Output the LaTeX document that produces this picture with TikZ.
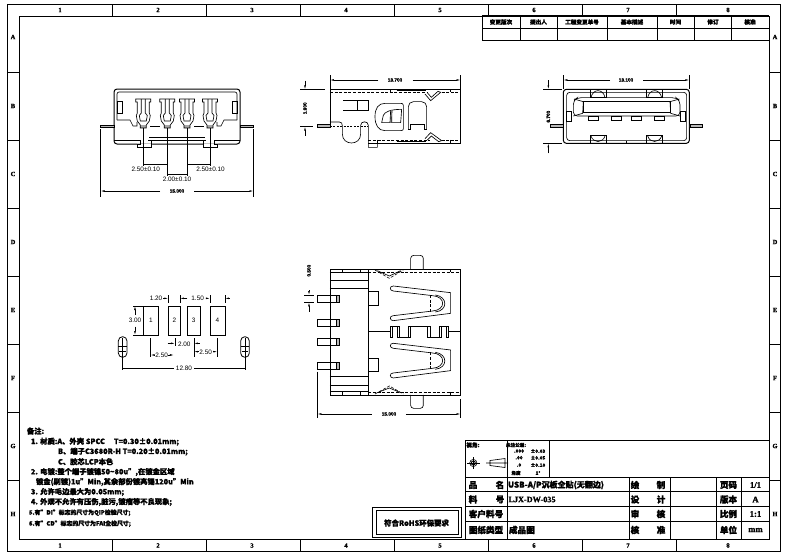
\documentclass[tikz,border=0pt]{standalone}
\usepackage{fontspec}
\usetikzlibrary{arrows.meta}
\setmainfont{Noto Sans CJK SC}[BoldFeatures={FakeBold=1.6}]
\newfontfamily\dimf{Liberation Sans}[BoldFeatures={FakeBold=2}]
\newfontfamily\serf{Liberation Serif}[BoldFeatures={FakeBold=1.5}]
\newcounter{tn}
\newcommand\tx[3][]{\stepcounter{tn}\node[txt,#1] (t\arabic{tn}) at (#2) {#3};}
\newcommand\fs[1]{\fontsize{#1}{#1}\selectfont}
\tikzset{
 txt/.style={inner sep=0pt,outer sep=0pt,black},
 zm/.style 2 args={shift={(#1pt,-#2pt)},x=0.3333pt,y=-0.3333pt},
 ln/.style={line width=0.65pt,black},
 hv/.style={line width=1pt,black},
 dsh/.style={line width=0.6pt,dash pattern=on 3pt off 1.6pt},
 dimn/.style={line width=0.5pt,black},
 arre/.style={dimn,-{Latex[length=4pt,width=1.7pt]}},
 bdim/.style={txt,font=\fs{4.7}\bfseries\dimf},
 sdim/.style={txt,font=\fs{6.4}\dimf},
 zone/.style={txt,font=\fs{6.5}\bfseries\serf},
 rev/.style={txt,font=\fs{5.6}\bfseries},
 cell/.style={txt,font=\fs{8.6}\bfseries},
 note/.style={txt,anchor=west,font=\fs{7.3}\bfseries},
 notes/.style={txt,anchor=west,font=\fs{5.9}\bfseries},
 tiny/.style={txt,font=\fs{4.6}\bfseries},
}
\newcommand\contact[1]{\begin{scope}[shift={(#1pt,0pt)}]
 \fill[gray!70] (-3,125) rectangle (3,128);
 \draw[ln] (-7.5,99)--(7.5,99)--(7.5,102)--(6,102)--(6,113)--(7,115.5)--(6,121)--(3,125)--(3,128)--(-3,128)--(-3,125)--(-6,121)--(-7,115.5)--(-6,113)--(-6,102)--(-7.5,102)--cycle;
 \draw[ln] (-2,99)--(-2,113)--(-4,115.5)--(-3,121)--(3,121)--(4,115.5)--(2,113)--(2,99);
\end{scope}}
\newcommand\spring[1]{\begin{scope}[shift={(0pt,-#1pt)}]
 \draw[ln] (310,108)--(482,128)--(482,190)--(310,212) .. controls (298,212) and (298,197) .. (310,197)--(428,183) .. controls (468,180) and (468,140) .. (428,137)--(310,123) .. controls (298,122) and (298,108) .. (310,108);
 \draw[ln] (436,135) .. controls (474,140) and (474,182) .. (436,186);
 \draw[dsh] (420,135)--(420,185);
\end{scope}}
\begin{document}
\begin{tikzpicture}[x=1pt,y=-1pt]
\useasboundingbox (0,0) rectangle (787,558);
\fill[white] (0,0) rectangle (787,558);
% frame
\draw[line width=0.8pt] (7.5,4) rectangle (780.5,551);
\draw[hv] (19,16) rectangle (769,539);
\foreach \x in {112,206,300,394,488,582,676}{\draw[line width=0.8pt] (\x,4)--(\x,16);\draw[line width=0.8pt] (\x,539)--(\x,551);}
\foreach \y in {72,140,208,276,344,412,480}{\draw[line width=0.8pt] (7.5,\y)--(19,\y);\draw[line width=0.8pt] (769,\y)--(780.5,\y);}
\foreach \x/\l in {60/1,158/2,252/3,346/4,440/5,534/6,628/7,728/8}{\tx[zone]{\x,10}{\l}\tx[zone]{\x,545.5}{\l}}
\foreach \y/\l in {37/A,106/B,174/C,242/D,310/E,378/F,446/G,514/H}{\tx[zone]{13,\y}{\l}\tx[zone]{775,\y}{\l}}
% revision table
\draw[hv] (482.3,15)--(769,15) (482.3,28.3)--(769,28.3) (482.3,40.7)--(769,40.7);
\foreach \x in {482.3,520,557.3,607.3,657.3,694,731.7}{\draw[line width=0.6pt] (\x,15)--(\x,40.7);}
\foreach \x/\l in {501/变更版次,538.5/提出人,582/工程变更单号,632/基本描述,675.5/时间,713/修订,750/核准}{\tx[rev]{\x,22}{\l}}
% front view
\draw[hv,rounded corners=3pt] (114,89) rectangle (240,144);
\draw[ln,rounded corners=2pt] (117,120)--(117,92)--(237,92)--(237,120);
\draw[ln] (117,101) rectangle (122,113) (232,101) rectangle (237,113);
\draw[ln] (117,120)--(130,120)--(133,126)--(137,126)--(137,122);
\draw[ln] (237,120)--(224,120)--(221,126)--(217,126)--(217,122);
\draw[ln] (150,126)--(160,126) (194,126)--(204,126);
\fill[white] (137,143.5) rectangle (152,147) (203,143.5) rectangle (218,147);
\draw[ln] (114,140)--(140,140)--(140,144)--(137,144)--(137,147.5)--(151,147.5)--(151,140)--(148,140);
\draw[ln] (240,140)--(214,140)--(214,144)--(217,144)--(217,147.5)--(203,147.5)--(203,140)--(206,140);
\draw[ln] (148,140)--(206,140) (149,137)--(205,137);
\contact{143.3}\contact{167.3}\contact{187}\contact{210}
\draw[ln,fill=gray!55] (100.5,125.3) rectangle (114,127.5);
\draw[ln,fill=gray!55] (240,125.3) rectangle (253.5,127.5);
\draw[dimn] (143.3,128)--(143.3,166) (167.3,128)--(167.3,176) (187,128)--(187,176) (210,128)--(210,166);
\draw[dimn] (143.3,164)--(167.3,164) (187,164)--(210,164) (167.3,174)--(187,174);
\draw[dimn] (100.5,129)--(100.5,197) (253.5,129)--(253.5,197);
\draw[arre] (160,191)--(100.5,191); \draw[arre] (194,191)--(253.5,191);
\tx[sdim]{145.8,169.3}{2.50±0.10}\tx[sdim]{210.5,169.3}{2.50±0.10}\tx[sdim]{177,179}{2.00±0.10}
\tx[bdim]{177,191}{15.000}
% side view
\begin{scope}[zm={290}{60}]
\draw[ln] (120,200)--(120,88)--(512,88)--(512,250)--(235,250);
\draw[dsh] (120,97)--(410,97) (455,97)--(512,97) (235,240)--(420,240) (455,240)--(512,240);
\draw[ln] (302,88)--(302,97) (480,88)--(480,97) (262,240)--(262,250) (480,240)--(480,250);
\draw[line width=0.9pt] (320,92)--(408,92) (320,245)--(408,245);
\draw[ln,fill=gray!55] (82,193) rectangle (120,203);
\draw[ln,dash pattern=on 2pt off 1.4pt] (120,198)--(235,198);
\draw[ln] (120,186)--(148,186) .. controls (155,186) and (157,190) .. (157,198)--(157,222) .. controls (157,258) and (212,258) .. (212,222)--(212,196) .. controls (212,182) and (235,182) .. (235,196)--(235,262)--(262,262)--(262,250);
\draw[ln] (160,120)--(235,120)--(235,150)--(160,150) (202,120)--(202,150);
\draw[ln] (340,136) .. controls (340,131) and (336,130) .. (332,130)--(285,130) .. controls (265,130) and (255,145) .. (255,170) .. controls (255,195) and (265,212) .. (285,212)--(332,212) .. controls (338,212) and (340,210) .. (340,206)--cycle;
\draw[ln] (275,188)--(280,166) .. controls (284,156) and (300,148) .. (335,148)--(332,188)--cycle;
\fill[gray!55] (300,188)--(302,151)--(306,151)--(305,188)--cycle;
\draw[ln] (300,188)--(302,151) (305,188)--(306,151);
\draw[ln,rounded corners=5pt] (355,208)--(355,125)--(410,125)--(410,208);
\draw[ln] (355,208)--(362,208)--(362,192)--(403,192)--(403,208)--(410,208);
\draw[ln] (405,102)--(422,122)--(452,97)--(444,94)--(424,112)--(412,98);
\draw[ln] (405,236)--(422,218)--(455,242)--(446,245)--(424,228)--(412,240);
\draw[dimn] (120,45)--(120,88) (512,45)--(512,88);
\draw[arre] (265,60)--(120,60); \draw[arre] (368,60)--(512,60);
\tx[bdim]{315,60}{13.700}
\draw[dimn] (30,88)--(105,88) (30,200)--(70,200);
\draw[arre] (45,62)--(45,88); \draw[arre] (45,228)--(45,200);
\tx[bdim,rotate=90]{45,145}{1.900}
\end{scope}
% end view
\begin{scope}[zm={540}{60}]
\draw[hv,rounded corners=3pt] (70,88) rectangle (448,250);
\draw[ln,rounded corners=3pt] (80,97) rectangle (440,242);
\foreach \x in {150,320}{
 \draw[ln] (\x,88)--(\x,113)--(\x+48,113)--(\x+48,88);
 \draw[ln] (\x+3,113) .. controls (\x+8,85) and (\x+40,85) .. (\x+45,113);
 \draw[ln] (\x,250)--(\x,226)--(\x+48,226)--(\x+48,250);
 \draw[ln] (\x+3,228) .. controls (\x+10,250) and (\x+38,250) .. (\x+45,228);
}
\draw[ln] (258,242)--(258,250);
\draw[ln,rounded corners=4pt] (100,168)--(100,122)--(112,113)--(408,113)--(420,122)--(420,168)--cycle;
\draw[ln] (130,125) rectangle (390,157);
\draw[ln] (102,117)--(130,125)--(128,160)--(100,168) (418,117)--(390,125)--(392,160)--(420,168);
\draw[hv] (80,155) rectangle (95,185) (423,155) rectangle (438,185);
\foreach \x in {145,215,273,343}{\draw[ln] (\x,168) rectangle (\x+30,182);}
\draw[ln,fill=gray!55] (32,193) rectangle (70,202) (450,193) rectangle (488,202);
\draw[dimn] (70,45)--(70,88) (448,45)--(448,88);
\draw[arre] (210,60)--(70,60); \draw[arre] (310,60)--(448,60);
\tx[bdim]{258,60}{13.100}
\draw[dimn] (10,88)--(65,88) (10,250)--(65,250);
\draw[arre] (25,60)--(25,88); \draw[arre] (25,280)--(25,250);
\tx[bdim,rotate=90]{25,170}{6.700}
\end{scope}
% top view
\begin{scope}[zm={290}{250}]
\draw[ln] (120,58) rectangle (512,435);
\draw[ln] (235,58)--(235,435);
\draw[dsh] (235,66)--(512,66) (235,426)--(512,426);
\draw[line width=1pt] (120,66)--(235,66) (120,426)--(235,426);
\draw[ln] (120,90)--(235,90) (120,115)--(235,115) (120,378)--(235,378) (120,405)--(235,405);
\foreach \x in {157,212,480}{\draw[ln] (\x,58)--(\x,66) (\x,426)--(\x,435);}
\draw[ln,rounded corners=3pt] (362,58)--(362,16)--(400,16)--(400,58);
\draw[ln,rounded corners=3pt] (362,435)--(362,475)--(400,475)--(400,435);
\foreach \y in {135,207,265,337}{
 \draw[ln] (82,\y) rectangle (148,\y+21);
 \fill[gray!55] (138,\y) rectangle (148,\y+21);
 \draw[ln] (138,\y) rectangle (148,\y+21);
}
\draw[ln] (235,125)--(265,125)--(265,165)--(235,165) (235,325)--(265,325)--(265,365)--(235,365);
\spring{0}\spring{57.3}
\draw[ln] (235,245)--(300,245) (476,245)--(512,245);
\draw[ln] (300,228) rectangle (306,262) (322,228) rectangle (328,262) (354,228) rectangle (361,262) (413,228) rectangle (420,262) (447,228) rectangle (453,262) (470,228) rectangle (476,262);
\draw[ln] (306,228)--(322,228) (328,262)--(354,262) (361,228)--(413,228) (420,262)--(447,262) (453,228)--(470,228);
\draw[dsh] (255,60)--(298,85)--(340,60);
\draw[ln] (262,62)--(298,78)--(332,62);
\draw[dsh] (255,432)--(298,408)--(340,432);
\draw[ln] (262,428)--(298,414)--(332,428);
\draw[dimn] (82,365)--(82,505) (512,447)--(512,505);
\draw[arre] (245,492)--(82,492); \draw[arre] (348,492)--(512,492);
\tx[bdim]{297,492}{15.000}
\draw[dimn] (42,135)--(72,135) (42,157)--(72,157);
\draw[arre] (57,120)--(57,135); \draw[arre] (57,185)--(57,157);
\tx[bdim,rotate=90]{57,62}{0.500}
\end{scope}
% pad layout
\begin{scope}[zm={100}{280}]
\foreach \a/\b/\c/\l in {130/175/152.5/1,205/242/223.5/2,262/300/281/3,330/375/352.5/4}{
 \draw[ln] (\a,78) rectangle (\b,165);
 \tx[sdim]{\c,122}{\l}
}
\foreach \x in {205,240,330,375}{\draw[dimn] (\x,45)--(\x,70);}
\draw[arre] (190,55)--(205,55); \draw[arre] (262,55)--(240,55);
\draw[arre] (318,55)--(330,55); \draw[arre] (388,55)--(375,55);
\tx[sdim]{168,55}{1.20}\tx[sdim]{293,55}{1.50}
\draw[dimn] (100,78)--(130,78) (100,165)--(130,165);
\draw[arre] (105,105)--(105,78); \draw[arre] (105,140)--(105,165);
\tx[sdim]{105,122}{3.00}
\foreach \x in {68,435}{
 \draw[line width=0.8pt,rounded corners=4.3pt] (\x-13,170) rectangle (\x+13,232);
 \draw[dimn] (\x,175)--(\x,270) (\x-13,200)--(\x+13,200) (\x-10,215)--(\x+10,215);
}
\draw[dimn] (152,175)--(152,232) (225,175)--(225,198) (282,175)--(282,232) (352,175)--(352,232);
\draw[arre] (165,225)--(152,225); \draw[arre] (205,225)--(222,225);
\draw[arre] (295,215)--(282,215); \draw[arre] (340,215)--(352,215);
\draw[arre] (203,190)--(225,190); \draw[arre] (300,190)--(282,190);
\tx[sdim]{185,225}{2.50}\tx[sdim]{253,192}{2.00}\tx[sdim]{317,217}{2.50}
\draw[dimn] (68,265)--(222,265) (282,265)--(435,265);
\tx[sdim]{252,265}{12.80}
\end{scope}
% notes
\tx[note]{27,431}{备注:}
\tx[note]{31,441.7}{1. 材质:A、外壳 SPCC\hspace{9pt}T=0.30±0.01mm;}
\tx[note]{58,451.7}{B、端子C3680R-H T=0.20±0.01mm;}
\tx[note]{58,461.7}{C、胶芯LCP本色}
\tx[note]{31,472}{2. 电镀:整个端子镀镍50\string~80u",在镀金区域}
\tx[note]{36,482}{镀金(刷镀)1u"Min,其余部份镀亮锡120u"Min}
\tx[note]{31,492}{3. 允许毛边最大为0.05mm;}
\tx[note]{31,502}{4. 外观不允许有压伤,脏污,镀瘤等不良现象;}
\tx[notes]{29,512.7}{5.有"DI"标志的尺寸为QIP检验尺寸;}
\tx[notes]{29,523.7}{6.有"CD"标志的尺寸为FAI全检尺寸;}
% title block
\draw[hv] (465,440)--(769,440) (465,477.7)--(769,477.7) (465,491.7)--(769,491.7) (465,506.7)--(769,506.7) (465,521.7)--(769,521.7);
\draw[hv] (465,440)--(465,539) (507.3,477.7)--(507.3,539) (629,477.7)--(629,539) (670,477.7)--(670,539) (716,477.7)--(716,539) (741,477.7)--(741,539);
\draw[hv] (507,440)--(507,477.7) (549,440)--(549,477.7);
\tx[rev]{473,445}{视角:}
\draw[line width=0.9pt] (473.3,463) circle (2pt);
\draw[line width=0.6pt] (473.3,463) circle (3.6pt);
\draw[line width=0.5pt] (467,463)--(479.5,463) (473.3,457)--(473.3,469);
\draw[ln] (490,460.5)--(505,458.5)--(505,467.5)--(490,465.5)--cycle (486,463)--(508,463);
\tx[tiny]{516,445}{未注公差:}
\foreach \y/\a/\b in {451/.000/±0.03,457.7/.00/±0.05,465/.0/±0.10}{
 \tx[tiny]{519,\y}{\a}\tx[tiny]{538,\y}{\b}}
\tx[tiny]{516,473}{角度}\tx[tiny]{538,473}{1°}
\foreach \y/\a/\b in {485/品/名,499.5/料/号}{\tx[cell]{473,\y}{\a}\tx[cell]{500,\y}{\b}}
\tx[cell]{486,514}{客户料号}\tx[cell]{486,530}{图纸类型}
\tx[cell,anchor=west,font=\fs{8}\bfseries]{508,485}{USB-A/P沉板全贴(无翻边)}
\tx[cell,anchor=west,font=\fs{8.2}\bfseries\serf]{508.5,499.5}{LJX-DW-035}
\tx[cell,anchor=west]{509,530}{成品图}
\foreach \y/\a/\b in {485/绘/制,499.5/设/计,514/审/核,530/核/准}{\tx[cell]{635,\y}{\a}\tx[cell]{661,\y}{\b}}
\foreach \y/\a/\b in {485/页码/1\slash 1,499.5/版本/A,514/比例/1:1,530/单位/mm}{\tx[cell]{728.5,\y}{\a}\tx[cell,font=\fs{8.6}\bfseries\serf]{755.5,\y}{\b}}
% RoHS
\draw[line width=0.9pt] (372.7,507.7) rectangle (461.7,537.7) (376,510.7) rectangle (458,534.3);
\tx[txt,font=\fs{7.4}\bfseries]{416.5,523}{符合RoHS环保要求}
\end{tikzpicture}
\end{document}
